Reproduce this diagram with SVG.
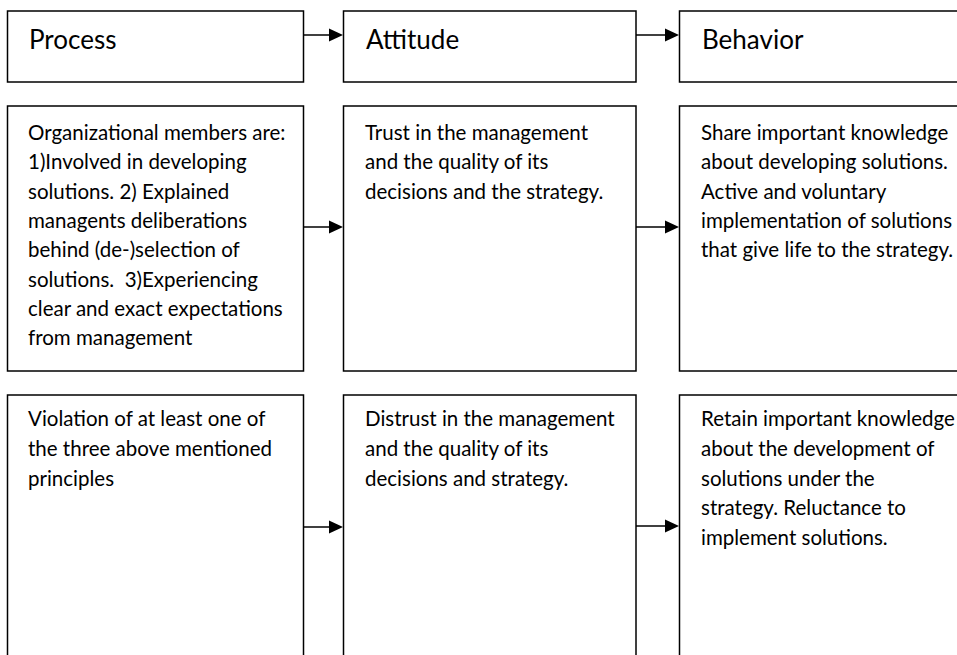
<svg xmlns="http://www.w3.org/2000/svg" width="957" height="655" viewBox="0 0 957 655">
<style>
.box{fill:#fff;stroke:#000;stroke-width:1.5}
.hd{font-family:Lato,"Open Sans","Liberation Sans",sans-serif;font-size:26px;fill:#000}
.tx{font-family:Lato,"Open Sans","Liberation Sans",sans-serif;font-size:20.5px;fill:#000}
.ln{stroke:#000;stroke-width:1.5;fill:none}
.ah{fill:#000}
</style>
<rect width="957" height="655" fill="#fff"/>
<g id="process-head"><rect class="box" x="7.5" y="11" width="296" height="71"/><text class="hd" x="29" y="49">Process</text></g>
<g id="attitude-head"><rect class="box" x="343.5" y="11" width="292.5" height="71"/><text class="hd" x="366" y="49">Attitude</text></g>
<g id="behavior-head"><rect class="box" x="679.5" y="11" width="290" height="71"/><text class="hd" x="702" y="49">Behavior</text></g>

<g id="process-positive"><rect class="box" x="7.5" y="106" width="296" height="265"/>
<text class="tx" x="28">
<tspan x="28" y="140">Organizational members are:</tspan>
<tspan x="28" y="169.3">1)Involved in developing</tspan>
<tspan x="28" y="198.6">solutions. 2) Explained</tspan>
<tspan x="28" y="227.9">managents deliberations</tspan>
<tspan x="28" y="257.2">behind (de-)selection of</tspan>
<tspan x="28" y="286.5" xml:space="preserve">solutions.  3)Experiencing</tspan>
<tspan x="28" y="315.8">clear and exact expectations</tspan>
<tspan x="28" y="345.1">from management</tspan>
</text></g>
<g id="attitude-positive"><rect class="box" x="343.5" y="106" width="292.5" height="265"/>
<text class="tx">
<tspan x="365" y="140">Trust in the management</tspan>
<tspan x="365" y="169.3">and the quality of its</tspan>
<tspan x="365" y="198.6">decisions and the strategy.</tspan>
</text></g>
<g id="behavior-positive"><rect class="box" x="679.5" y="106" width="290" height="265"/>
<text class="tx">
<tspan x="701" y="140">Share important knowledge</tspan>
<tspan x="701" y="169.3">about developing solutions.</tspan>
<tspan x="701" y="198.6">Active and voluntary</tspan>
<tspan x="701" y="227.9">implementation of solutions</tspan>
<tspan x="701" y="257.2">that give life to the strategy.</tspan>
</text></g>

<g id="process-negative"><rect class="box" x="7.5" y="395" width="296" height="270"/>
<text class="tx">
<tspan x="28" y="426">Violation of at least one of</tspan>
<tspan x="28" y="455.8">the three above mentioned</tspan>
<tspan x="28" y="485.6">principles</tspan>
</text></g>
<g id="attitude-negative"><rect class="box" x="343.5" y="395" width="292.5" height="270"/>
<text class="tx">
<tspan x="365" y="426">Distrust in the management</tspan>
<tspan x="365" y="455.8">and the quality of its</tspan>
<tspan x="365" y="485.6">decisions and strategy.</tspan>
</text></g>
<g id="behavior-negative"><rect class="box" x="679.5" y="395" width="290" height="270"/>
<text class="tx">
<tspan x="701" y="426">Retain important knowledge</tspan>
<tspan x="701" y="455.8">about the development of</tspan>
<tspan x="701" y="485.6">solutions under the</tspan>
<tspan x="701" y="515.4">strategy. Reluctance to</tspan>
<tspan x="701" y="545.2">implement solutions.</tspan>
</text></g>

<g id="connectors">
<line class="ln" x1="303.5" y1="35" x2="330" y2="35"/><polygon class="ah" points="329,28.5 343,35 329,41.5"/>
<line class="ln" x1="636" y1="35" x2="666" y2="35"/><polygon class="ah" points="665,28.5 679,35 665,41.5"/>
<line class="ln" x1="303.5" y1="227" x2="330" y2="227"/><polygon class="ah" points="329,220.5 343,227 329,233.5"/>
<line class="ln" x1="636" y1="227" x2="666" y2="227"/><polygon class="ah" points="665,220.5 679,227 665,233.5"/>
<line class="ln" x1="303.5" y1="527" x2="330" y2="527"/><polygon class="ah" points="329,520.5 343,527 329,533.5"/>
<line class="ln" x1="636" y1="526" x2="666" y2="526"/><polygon class="ah" points="665,519.5 679,526 665,532.5"/>
</g>
</svg>
